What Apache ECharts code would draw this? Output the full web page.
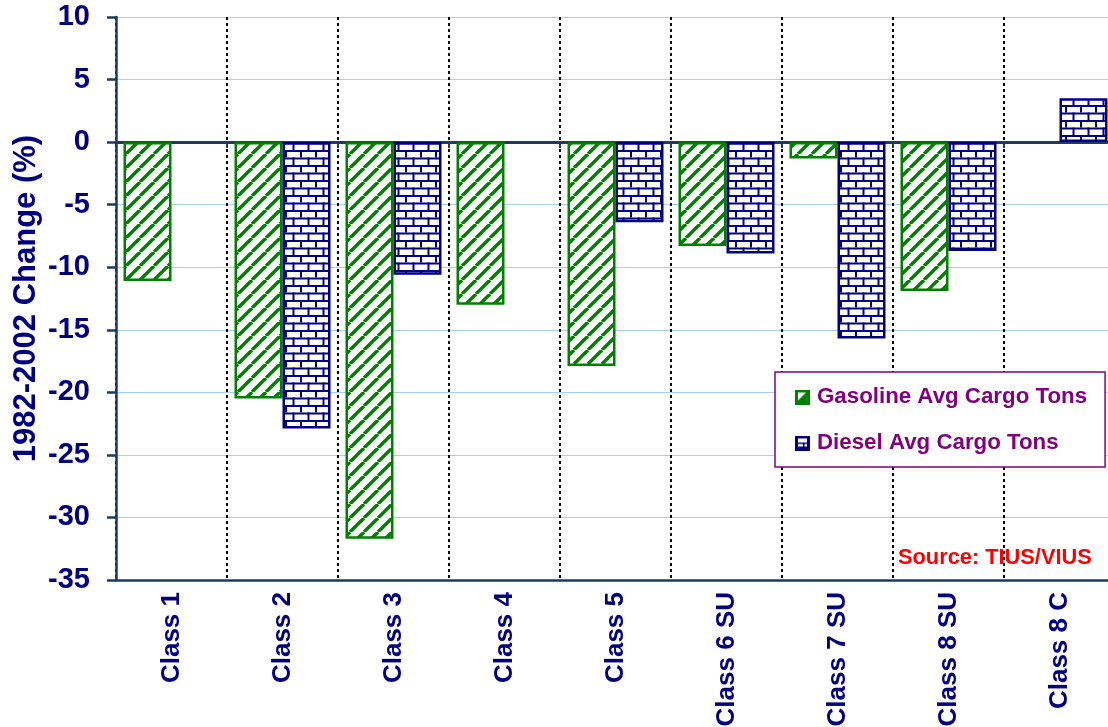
<!DOCTYPE html>
<html>
<head>
<meta charset="utf-8">
<script src="https://cdn.jsdelivr.net/npm/echarts@6/dist/echarts.min.js"></script>
<style>
html,body{margin:0;padding:0;background:#fff;}
#chart{width:1108px;height:727px;}
</style>
</head>
<body>
<div id="chart"></div>
<script>
var categories = ['Class 1','Class 2','Class 3','Class 4','Class 5','Class 6 SU','Class 7 SU','Class 8 SU','Class 8 C'];
var gasoline = [-11.1, -20.5, -31.7, -13.0, -17.9, -8.3, -1.3, -11.9, null];
var diesel = [null, -22.9, -10.6, null, -6.4, -8.9, -15.7, -8.7, 3.5];
var yTicks = {min: -35, max: 10, interval: 5};

var NAVY = '#000080';
var AXIS = '#1c3a64';
var GREEN = '#008000';
var PURPLE = '#800080';
var FONT = '"Liberation Sans", Arial, sans-serif';

function hatchPattern() {
  var s = 14;
  var c = document.createElement('canvas');
  c.width = s; c.height = s;
  var g = c.getContext('2d');
  g.fillStyle = '#fff'; g.fillRect(0, 0, s, s);
  g.strokeStyle = GREEN; g.lineWidth = 3.4;
  for (var k = -1; k <= 1; k++) {
    g.beginPath();
    g.moveTo(k * s, s);
    g.lineTo(k * s + s, 0);
    g.stroke();
  }
  return {image: c, repeat: 'repeat'};
}
function brickPattern() {
  var w = 15, h = 15;
  var c = document.createElement('canvas');
  c.width = w; c.height = h;
  var g = c.getContext('2d');
  g.fillStyle = '#fff'; g.fillRect(0, 0, w, h);
  g.fillStyle = NAVY;
  g.fillRect(0, 0, w, 2);
  g.fillRect(0, 7.5, w, 2);
  g.fillRect(0, 0, 2, 7.5);
  g.fillRect(7.5, 7.5, 2, 7.5);
  return {image: c, repeat: 'repeat'};
}
function gasIcon() {
  var c = document.createElement('canvas');
  c.width = 15; c.height = 15;
  var g = c.getContext('2d');
  g.fillStyle = GREEN; g.fillRect(0, 0, 15, 15);
  g.fillStyle = '#fff';
  g.beginPath(); g.moveTo(3, 3); g.lineTo(11, 3); g.lineTo(3, 11); g.closePath(); g.fill();
  return 'image://' + c.toDataURL();
}
function dieselIcon() {
  var c = document.createElement('canvas');
  c.width = 15; c.height = 15;
  var g = c.getContext('2d');
  g.fillStyle = NAVY; g.fillRect(0, 0, 15, 15);
  g.fillStyle = '#fff'; g.fillRect(3, 3, 9, 8);
  g.fillStyle = NAVY;
  g.fillRect(3, 7, 9, 1.5);
  g.fillRect(8, 7, 1.5, 4);
  return 'image://' + c.toDataURL();
}

var chart = echarts.init(document.getElementById('chart'), null, {renderer: 'canvas'});
chart.setOption({
  animation: false,
  backgroundColor: '#fff',
  grid: {left: 116, width: 999, top: 17, height: 563, containLabel: false, outerBoundsMode: 'none'},
  legend: {
    orient: 'vertical',
    left: 775, top: 372,
    padding: [14, 18, 13, 20],
    itemGap: 24,
    itemWidth: 15, itemHeight: 15,
    backgroundColor: '#fff',
    borderColor: PURPLE, borderWidth: 1.5,
    textStyle: {color: PURPLE, fontSize: 22.3, fontWeight: 'bold', fontFamily: FONT, padding: [0, 0, 0, 2]},
    data: [
      {name: 'Gasoline Avg Cargo Tons', icon: gasIcon()},
      {name: 'Diesel Avg Cargo Tons', icon: dieselIcon()}
    ]
  },
  xAxis: [
    {
      type: 'category', data: categories, position: 'bottom',
      axisLine: {onZero: true, lineStyle: {color: AXIS, width: 3}},
      axisTick: {show: true, length: 6, lineStyle: {color: AXIS, width: 2}},
      axisLabel: {show: false},
      splitLine: {show: false}
    },
    {
      type: 'category', data: categories, position: 'bottom',
      axisLine: {onZero: false, lineStyle: {color: AXIS, width: 2.5}},
      axisTick: {show: false},
      axisLabel: {rotate: 90, margin: 12, color: NAVY, fontSize: 26, fontWeight: 'bold', fontFamily: FONT},
      splitLine: {show: true, lineStyle: {color: '#000', width: 2, type: [3, 3]}}
    }
  ],
  yAxis: {
    type: 'value', min: yTicks.min, max: yTicks.max, interval: yTicks.interval,
    name: '1982-2002 Change (%)', nameLocation: 'middle', nameRotate: 90, nameGap: 74,
    nameMoveOverlap: false,
    nameTextStyle: {color: NAVY, fontSize: 31, fontWeight: 'bold', fontFamily: FONT},
    axisLine: {show: true, lineStyle: {color: AXIS, width: 2.5}},
    axisTick: {show: true, length: 9, lineStyle: {color: AXIS, width: 2.5}},
    axisLabel: {margin: 26, color: NAVY, fontSize: 29, fontWeight: 'bold', fontFamily: FONT},
    splitLine: {show: true, lineStyle: {color: '#a8cdf2', width: 1.2}}
  },
  series: [
    {
      name: 'Gasoline Avg Cargo Tons', type: 'bar', xAxisIndex: 0,
      data: gasoline, barWidth: 48, barGap: '0%',
      itemStyle: {color: hatchPattern(), borderColor: GREEN, borderWidth: 2.5}
    },
    {
      name: 'Diesel Avg Cargo Tons', type: 'bar', xAxisIndex: 0,
      data: diesel, barWidth: 48, barGap: '0%',
      itemStyle: {color: brickPattern(), borderColor: NAVY, borderWidth: 2.5}
    }
  ],
  graphic: [
    {
      type: 'text', left: 898, top: 547,
      style: {text: 'Source: TIUS/VIUS', fill: '#ff0000', fontSize: 21.8, fontWeight: 'bold', fontFamily: FONT}
    }
  ]
});
</script>
</body>
</html>
